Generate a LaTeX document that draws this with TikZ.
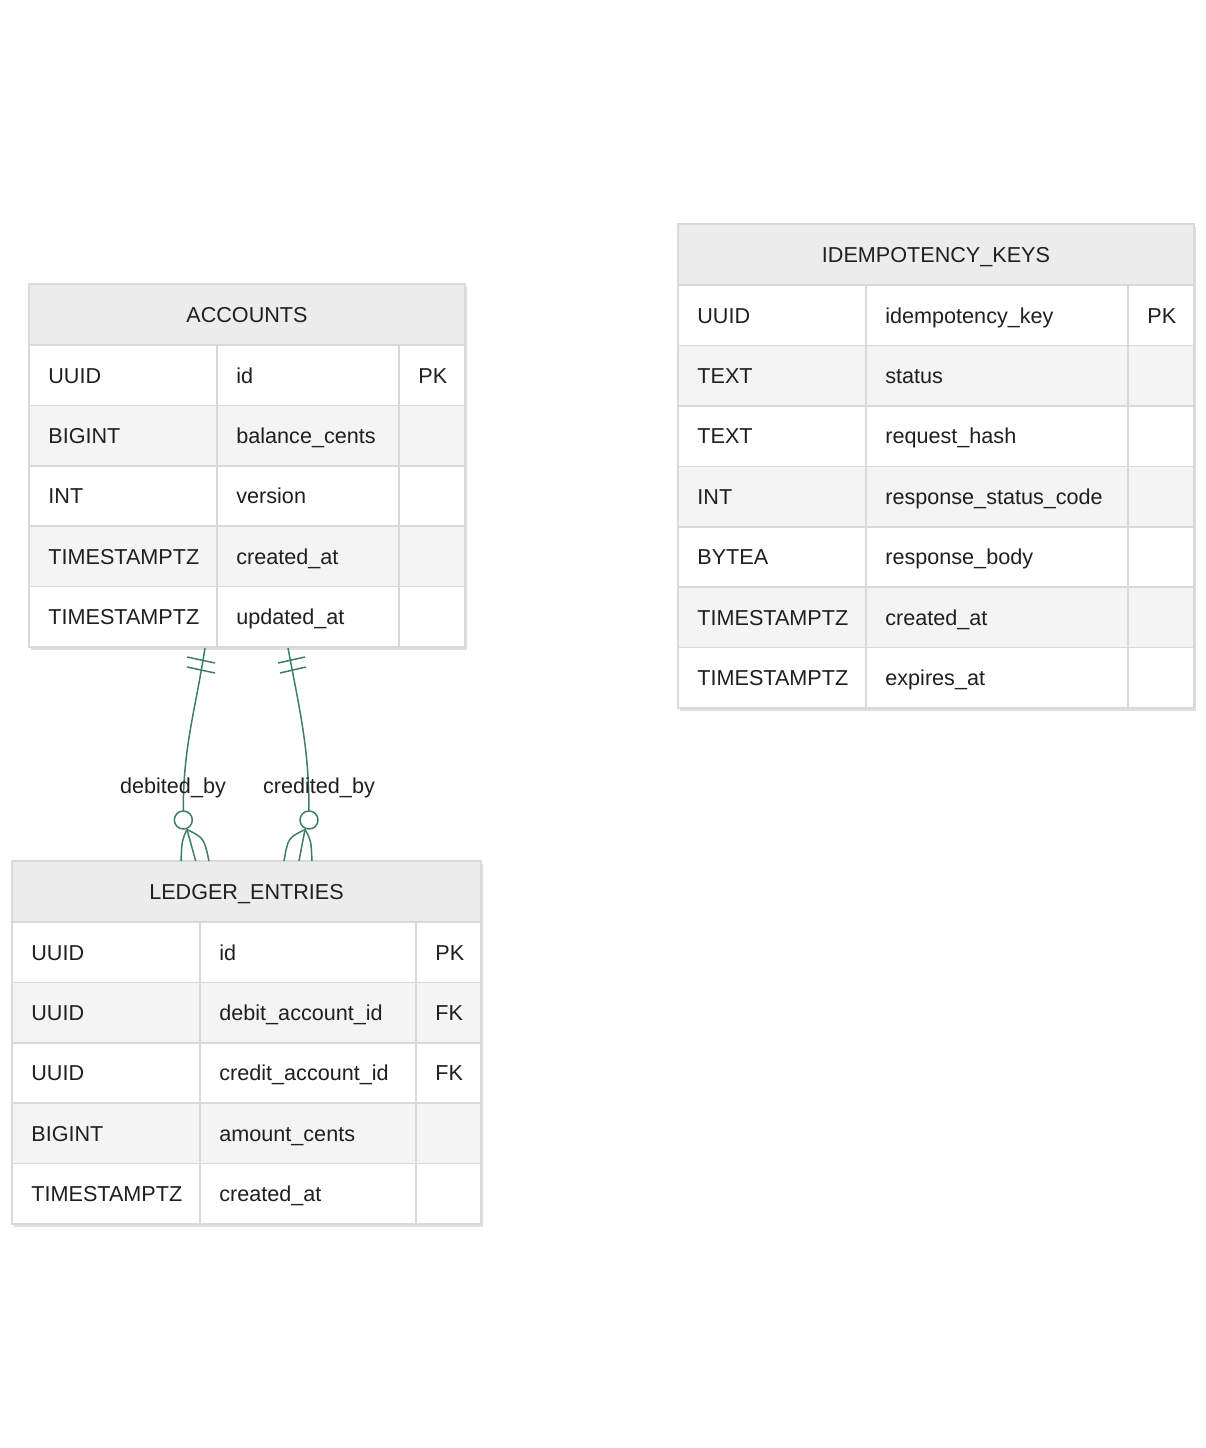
\documentclass[tikz,border=0pt]{standalone}
\usepackage{fontspec}
\setmainfont{Liberation Sans}
\usetikzlibrary{positioning,calc}

\definecolor{headgray}{HTML}{ECECEC}
\definecolor{rowgray}{HTML}{F4F4F4}
\definecolor{gridgray}{HTML}{D9D9D9}
\definecolor{relgreen}{HTML}{3E7D66}
\definecolor{inktext}{HTML}{1F1F1F}

\tikzset{
  cell/.style={anchor=base west, inner sep=0pt, text=inktext},
  title/.style={anchor=base, inner sep=0pt, text=inktext},
  grid/.style={draw=gridgray, line width=0.8pt},
  shade/.style={fill=black, opacity=0.13},
  rel/.style={draw=relgreen, line width=0.75pt},
  rellabel/.style={anchor=base, inner sep=1pt, text=inktext},
}

\begin{document}
\begin{tikzpicture}[x=0.5pt, y=-0.5pt, font=\fontsize{10.8}{13}\selectfont]
  % Canvas
  \useasboundingbox (0,0) rectangle (1206,1448);

  % ACCOUNTS
  \fill[shade] (31,287) rectangle (467,650);
  \fill[headgray] (29,284) rectangle (465,345);
  \node[title] (acc) at (247,322.5) {ACCOUNTS};
  \foreach \i/\ty/\nm/\k/\bg in {0/UUID/id/PK/white, 1/BIGINT/balance\_cents//rowgray,
      2/INT/version//white, 3/TIMESTAMPTZ/created\_at//rowgray, 4/TIMESTAMPTZ/updated\_at//white} {
    \pgfmathsetmacro\rowtop{345+60.4*\i}
    \fill[\bg] (29,\rowtop) rectangle ++(436,60.4);
    \draw[grid] (29,\rowtop) -- (465,\rowtop);
    \node[cell] (acc-ty-\i) at (48,\rowtop+38) {\ty};
    \node[cell] (acc-nm-\i) at (236,\rowtop+38) {\nm};
    \node[cell] (acc-key-\i) at (418,\rowtop+38) {\k};
  }
  \draw[grid] (217,345) -- (217,647) (399,345) -- (399,647);
  \draw[grid] (29,284) rectangle (465,647);

  % IDEMPOTENCY_KEYS
  \fill[shade] (680,227) rectangle (1196,711);
  \fill[headgray] (678,224) rectangle (1194,285);
  \node[title] (idem) at (936,262.5) {IDEMPOTENCY\_KEYS};
  \foreach \i/\ty/\nm/\k/\bg in {0/UUID/idempotency\_key/PK/white, 1/TEXT/status//rowgray,
      2/TEXT/request\_hash//white, 3/INT/response\_status\_code//rowgray,
      4/BYTEA/response\_body//white, 5/TIMESTAMPTZ/created\_at//rowgray,
      6/TIMESTAMPTZ/expires\_at//white} {
    \pgfmathsetmacro\rowtop{285+60.43*\i}
    \fill[\bg] (678,\rowtop) rectangle ++(516,60.43);
    \draw[grid] (678,\rowtop) -- (1194,\rowtop);
    \node[cell] (idem-ty-\i) at (697,\rowtop+38) {\ty};
    \node[cell] (idem-nm-\i) at (885,\rowtop+38) {\nm};
    \node[cell] (idem-key-\i) at (1147,\rowtop+38) {\k};
  }
  \draw[grid] (866,285) -- (866,708) (1128,285) -- (1128,708);
  \draw[grid] (678,224) rectangle (1194,708);

  % LEDGER_ENTRIES
  \fill[shade] (14,864) rectangle (483,1227);
  \fill[headgray] (12,861) rectangle (481,922);
  \node[title] (led) at (246.5,899.5) {LEDGER\_ENTRIES};
  \foreach \i/\ty/\nm/\k/\bg in {0/UUID/id/PK/white, 1/UUID/debit\_account\_id/FK/rowgray,
      2/UUID/credit\_account\_id/FK/white, 3/BIGINT/amount\_cents//rowgray,
      4/TIMESTAMPTZ/created\_at//white} {
    \pgfmathsetmacro\rowtop{922+60.4*\i}
    \fill[\bg] (12,\rowtop) rectangle ++(469,60.4);
    \draw[grid] (12,\rowtop) -- (481,\rowtop);
    \node[cell] (led-ty-\i) at (31,\rowtop+38) {\ty};
    \node[cell] (led-nm-\i) at (219,\rowtop+38) {\nm};
    \node[cell] (led-key-\i) at (435,\rowtop+38) {\k};
  }
  \draw[grid] (200,922) -- (200,1224) (416,922) -- (416,1224);
  \draw[grid] (12,861) rectangle (481,1224);

  % Relation ends
  \coordinate (debTop) at (205,648);
  \coordinate (debEnd) at (183.3,811);
  \coordinate (debFoot) at (187,829.5);
  \coordinate (credTop) at (288,648);
  \coordinate (credEnd) at (309,811);
  \coordinate (credFoot) at (305,829.5);

  % debited_by
  \draw[rel] (debTop) .. controls (195,712) and (183,748) .. (debEnd);
  \draw[rel] (187,657) -- (215,663) (187,667) -- (215,673);
  \draw[rel] (183.3,820) circle (9);
  \draw[rel] (debFoot) .. controls (182,840) .. (181,861);
  \draw[rel] (debFoot) -- (195.7,861);
  \draw[rel] (debFoot) .. controls (204,838) .. (209,861);
  \node[rellabel] (debLbl) at (173,793) {debited\_by};

  % credited_by
  \draw[rel] (credTop) .. controls (300,712) and (309,748) .. (credEnd);
  \draw[rel] (278,663) -- (305,657) (280,673) -- (306,667);
  \draw[rel] (309,820) circle (9);
  \draw[rel] (credFoot) .. controls (288,838) .. (284,861);
  \draw[rel] (credFoot) -- (299,861);
  \draw[rel] (credFoot) .. controls (311,840) .. (312,861);
  \node[rellabel] (credLbl) at (319,793) {credited\_by};
\end{tikzpicture}
\end{document}
